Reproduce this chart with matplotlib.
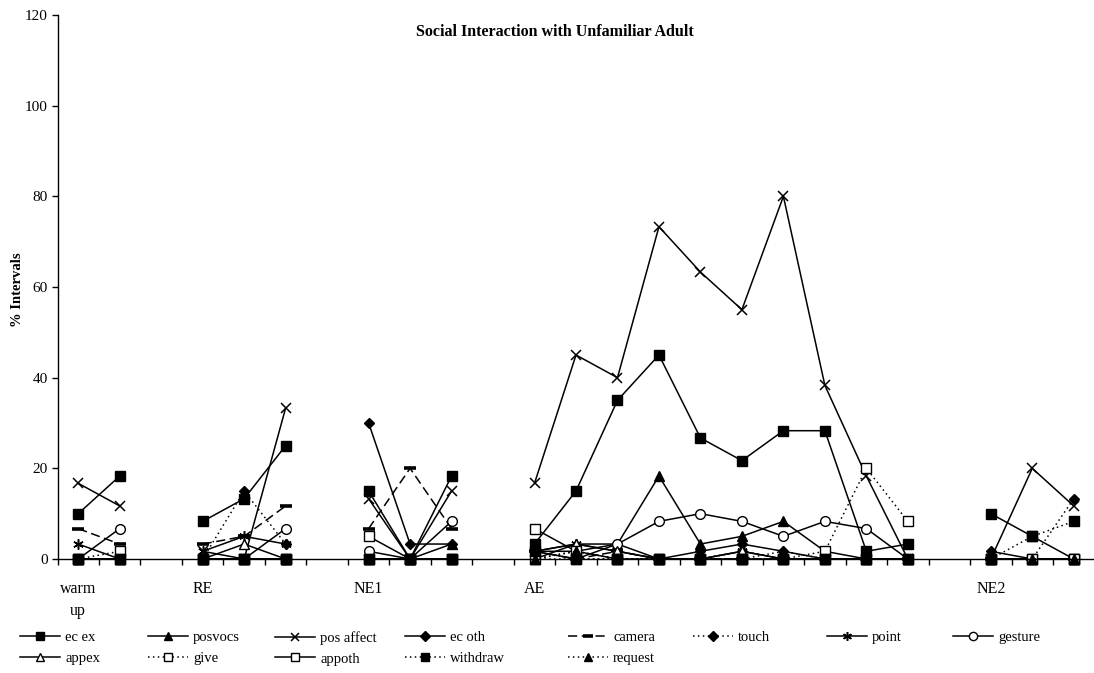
import numpy as np
import matplotlib
matplotlib.use("Agg")
import matplotlib.pyplot as plt

nan = np.nan

# Session phases and their category labels (blank columns separate phases)
phase_labels = ["warm\nup", "RE", "NE1", "AE", "NE2"]
phase_label_pos = [0, 3, 7, 11, 22]
n_sessions = 25

ec_ex = [10, 18.3, nan, 8.3, 13.3, 25, nan, 15, 0, 18.3, nan,
         3.3, 15, 35, 45, 26.7, 21.7, 28.3, 28.3, 1.7, 3.3, nan, 10, 5, 0]
posvocs = [0, 0, nan, 0, 0, 0, nan, 0, 0, 3.3, nan,
           1.7, 3.3, 3.3, 18.3, 3.3, 5, 8.3, 1.7, 0, 0, nan, 0, 0, 0]
pos_affect = [16.7, 11.7, nan, 1.7, 0, 33.3, nan, 13.3, 0, 15, nan,
              16.7, 45, 40, 73.3, 63.3, 55, 80, 38.3, 18.3, 0, nan, 0, 20, 11.7]
ec_oth = [0, 0, nan, 0, 0, 0, nan, 30, 3.3, 3.3, nan,
          1.7, 0, 3.3, 0, 1.7, 3.3, 1.7, 0, 0, 0, nan, 1.7, 0, 0]
camera = [6.7, 3.3, nan, 3.3, 5, 11.7, nan, 6.7, 20, 6.7, nan,
          1.7, 0, 1.7, 0, 0, 0, 0, 0, 0, 0, nan, 0, 0, 0]
touch = [0, 0, nan, 0, 15, 3.3, nan, 0, 0, 0, nan,
         0, 1.7, 0, 0, 0, 1.7, 0, 0, 0, 0, nan, 0, 0, 13.3]
point = [3.3, 0, nan, 1.7, 5, 3.3, nan, 0, 0, 0, nan,
         1.7, 3.3, 1.7, 0, 0, 1.7, 0, 0, 0, 0, nan, 0, 0, 0]
gesture = [0, 6.7, nan, 0, 0, 6.7, nan, 1.7, 0, 8.3, nan,
           1.7, 1.7, 3.3, 8.3, 10, 8.3, 5, 8.3, 6.7, 0, nan, 0, 0, 0]
appex = [0, 0, nan, 0, 3.3, 0, nan, 0, 0, 0, nan,
         0, 3.3, 1.7, 0, 0, 1.7, 0, 0, 0, 0, nan, 0, 0, 0]
give = [0, 1.7, nan, 0, 0, 0, nan, 0, 0, 0, nan,
        0, 0, 0, 0, 0, 0, 0, 1.7, 20, 8.3, nan, 0, 0, 0]
appoth = [0, 0, nan, 0, 0, 0, nan, 5, 0, 0, nan,
          6.7, 1.7, 0, 0, 0, 0, 0, 0, 0, 0, nan, 0, 0, 0]
withdraw = [0, 0, nan, 0, 0, 0, nan, 0, 0, 0, nan,
            1.7, 0, 0, 0, 0, 0, 0, 0, 0, 0, nan, 0, 5, 8.3]
request = [0, 0, nan, 0, 0, 0, nan, 0, 0, 0, nan,
           0, 1.7, 0, 0, 0, 0, 1.7, 0, 0, 0, nan, 0, 0, 0]

series_names = ["ec ex", "posvocs", "pos affect", "ec oth", "camera", "touch",
                "point", "gesture", "appex", "give", "appoth", "withdraw", "request"]
series_values = [ec_ex, posvocs, pos_affect, ec_oth, camera, touch,
                 point, gesture, appex, give, appoth, withdraw, request]

SOLID = "-"
DOTTED = (0, (1, 2.2))
DASHED = (0, (6, 3))
styles = {
    "ec ex": dict(ls=SOLID, marker="s", mfc="black", ms=7),
    "posvocs": dict(ls=SOLID, marker="^", mfc="black", ms=7.5),
    "pos affect": dict(ls=SOLID, marker="x", mfc="black", ms=7.5, mew=1.1),
    "ec oth": dict(ls=SOLID, marker="D", mfc="black", ms=5.5),
    "camera": dict(ls=DASHED, marker="_", mfc="black", ms=8, mew=2.6),
    "touch": dict(ls=DOTTED, marker="D", mfc="black", ms=5.5),
    "point": dict(ls=SOLID, marker=(6, 2, 0), mfc="black", ms=7.5, mew=1.1),
    "gesture": dict(ls=SOLID, marker="o", mfc="white", ms=7, mew=1.0),
    "appex": dict(ls=SOLID, marker="^", mfc="white", ms=7.5, mew=1.0),
    "give": dict(ls=DOTTED, marker="s", mfc="white", ms=7, mew=1.0),
    "appoth": dict(ls=SOLID, marker="s", mfc="white", ms=7, mew=1.0),
    "withdraw": dict(ls=DOTTED, marker="s", mfc="black", ms=7),
    "request": dict(ls=DOTTED, marker="^", mfc="black", ms=7.5),
}

plt.rcParams["font.family"] = ["Liberation Serif", "DejaVu Serif"]

W, H = 1094, 673
fig = plt.figure(figsize=(W / 100, H / 100), dpi=100)
ax = fig.add_axes([57.5 / W, 114 / H, (1094.5 - 57.5) / W, (559 - 15) / H])

x = np.arange(n_sessions)
handles = {}
for name, vals in zip(series_names, series_values):
    st = dict(styles[name])
    ls = st.pop("ls")
    line, = ax.plot(x, vals, color="black", lw=1.1, linestyle=ls,
                    mec="black", clip_on=False, **st)
    handles[name] = line

ax.set_xlim(-0.5, n_sessions - 0.5)
ax.set_ylim(0, 120)
ax.set_yticks(np.arange(0, 121, 20))
ax.tick_params(axis="y", direction="out", length=4, width=1, labelsize=11, pad=3)

# tick marks between sessions, labels centred under the first session of each phase
ax.set_xticks(np.arange(-0.5, n_sessions, 1.0))
ax.set_xticklabels([])
ax.tick_params(axis="x", which="major", direction="out", length=4, width=1)
ax.set_xticks(phase_label_pos, minor=True)
ax.set_xticklabels(phase_labels, minor=True, fontsize=11.5, linespacing=1.45)
ax.tick_params(axis="x", which="minor", length=0, pad=16)

for s in ["top", "right"]:
    ax.spines[s].set_visible(False)
for s in ["left", "bottom"]:
    ax.spines[s].set_linewidth(1.0)

fig.text(555 / W, 1 - 32 / H, "Social Interaction with Unfamiliar Adult",
         ha="center", va="center", fontsize=11.5, fontweight="bold")
fig.text(18 / W, 1 - 290 / H, "% Intervals", ha="center", va="center",
         rotation=90, fontsize=10.5, fontweight="bold")

# legend laid out in columns beneath the plot
legend_columns = [
    (20, ["ec ex", "appex"]),
    (148, ["posvocs", "give"]),
    (275, ["pos affect", "appoth"]),
    (405, ["ec oth", "withdraw"]),
    (568, ["camera", "request"]),
    (693, ["touch"]),
    (827, ["point"]),
    (953, ["gesture"]),
]
for xpx, names in legend_columns:
    fig.legend([handles[n] for n in names], names, loc="upper left",
               bbox_to_anchor=(xpx / W, 1 - 631 / H), frameon=False,
               borderpad=0, borderaxespad=0, handlelength=2.75,
               handletextpad=0.35, labelspacing=0.52, fontsize=10.5,
               numpoints=1, markerscale=0.85)

fig.savefig("out.png", dpi=100)
